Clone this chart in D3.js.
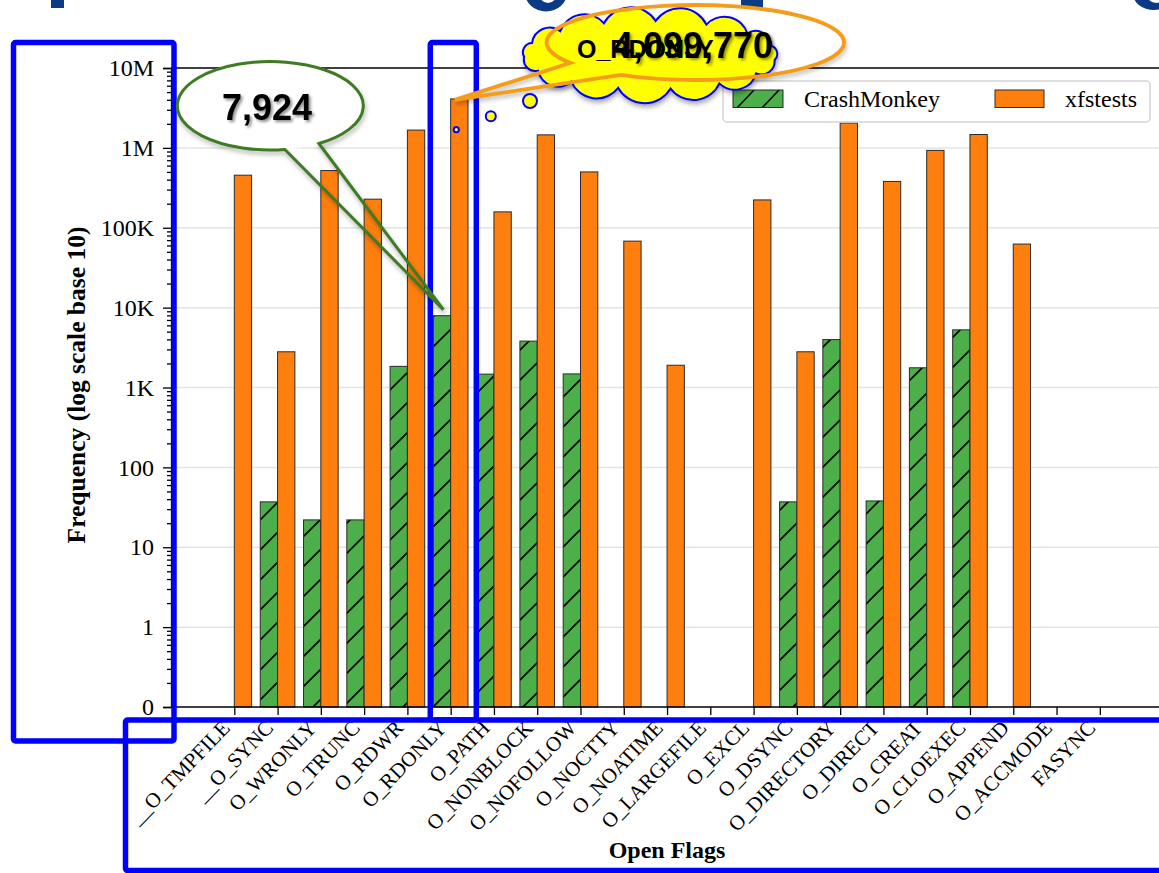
<!DOCTYPE html>
<html>
<head>
<meta charset="utf-8">
<script src="https://cdn.jsdelivr.net/npm/d3@7"></script>
<style>
  html, body { margin: 0; padding: 0; background: #fff; overflow: hidden; }
  svg { display: block; }
</style>
</head>
<body>
<svg id="chart" width="1159" height="873"></svg>
<script>
// ---- data ----
const categories = ["__O_TMPFILE", "__O_SYNC", "O_WRONLY", "O_TRUNC", "O_RDWR", "O_RDONLY",
  "O_PATH", "O_NONBLOCK", "O_NOFOLLOW", "O_NOCTTY", "O_NOATIME", "O_LARGEFILE", "O_EXCL",
  "O_DSYNC", "O_DIRECTORY", "O_DIRECT", "O_CREAT", "O_CLOEXEC", "O_APPEND", "O_ACCMODE", "FASYNC"];
const crashMonkey = [0, 37, 22, 22, 1840, 7924, 1470, 3810, 1480, 0, 0, 0, 0,
  37, 3980, 38, 1765, 5270, 0, 0, 0];
const xfstests = [455000, 2800, 520000, 228000, 1670000, 4099770, 158000, 1455000, 500000,
  68000, 1900, 0, 223000, 2800, 2050000, 380000, 930000, 1470000, 62500, 0, 0];
const seriesNames = ["CrashMonkey", "xfstests"];
const yTickValues = [0.1, 1, 10, 100, 1e3, 1e4, 1e5, 1e6, 1e7];
const yTickLabels = ["0", "1", "10", "100", "1K", "10K", "100K", "1M", "10M"];
const highlightFlag = "O_RDONLY";

const green = "#4caf4a", orange = "#ff7f0e", edge = "#2b2b2b";
const blue = "#0000ff", navy = "#0c3b86";

const svg = d3.select("#chart");
const defs = svg.append("defs");

// diagonal hatch for the CrashMonkey bars
const hatch = defs.append("pattern").attr("id", "hatch")
  .attr("patternUnits", "userSpaceOnUse").attr("width", 30).attr("height", 30);
hatch.append("rect").attr("width", 30).attr("height", 30).attr("fill", green);
hatch.append("path").attr("d", "M-3,3 L3,-3 M0,30 L30,0 M27,33 L33,27")
  .attr("stroke", "#000").attr("stroke-width", 1.6);

const legHatch = defs.append("pattern").attr("id", "legHatch")
  .attr("patternUnits", "userSpaceOnUse").attr("width", 25).attr("height", 25)
  .attr("x", 733).attr("y", 90);
legHatch.append("rect").attr("width", 25).attr("height", 25).attr("fill", green);
legHatch.append("path").attr("d", "M4,18 L21,0").attr("stroke", "#000").attr("stroke-width", 1.6);

const shadow = defs.append("filter").attr("id", "shadow")
  .attr("x", "-20%").attr("y", "-30%").attr("width", "140%").attr("height", "170%");
shadow.append("feDropShadow").attr("dx", 1).attr("dy", 3).attr("stdDeviation", 2.5)
  .attr("flood-color", "#000").attr("flood-opacity", 0.35);
const tshadow = defs.append("filter").attr("id", "tshadow")
  .attr("x", "-10%").attr("y", "-20%").attr("width", "130%").attr("height", "150%");
tshadow.append("feDropShadow").attr("dx", 2).attr("dy", 2).attr("stdDeviation", 1.4)
  .attr("flood-color", "#000").attr("flood-opacity", 0.45);

// ---- slide title fragments running off the top edge ----
const title = svg.append("g").attr("fill", navy);
title.append("rect").attr("x", 51).attr("y", -2).attr("width", 13).attr("height", 10);
title.append("rect").attr("x", 741).attr("y", -2).attr("width", 22).attr("height", 10);
const bowl = (cx, cy, rx, ry, ix, iy, irx, iry) =>
  `M${cx - rx},${cy} A${rx},${ry} 0 1 0 ${cx + rx},${cy} A${rx},${ry} 0 1 0 ${cx - rx},${cy} Z ` +
  `M${ix - irx},${iy} A${irx},${iry} 0 1 0 ${ix + irx},${iy} A${irx},${iry} 0 1 0 ${ix - irx},${iy} Z`;
title.append("path").attr("fill-rule", "evenodd").attr("d", bowl(546, -7, 21, 18.5, 548, -9, 10, 12));
title.append("path").attr("fill-rule", "evenodd").attr("d", bowl(1154, -6, 21, 16, 1156, -8, 10, 11));

// ---- scales ----
const x = d3.scaleLinear().domain([-1.4625, 21.4625]).range([171, 1163.1]);
const y = d3.scaleLog().domain([0.1, 1e7]).range([707, 68]);
const barW = x(0.4) - x(0);

const plot = svg.append("g");

// horizontal grid at each decade
plot.append("g").selectAll("line").data(yTickValues.slice(1, -1)).join("line")
  .attr("x1", 171).attr("x2", 1163).attr("y1", d => y(d)).attr("y2", d => y(d))
  .attr("stroke", "#e4e4e4").attr("stroke-width", 1.5);

// bars
const idx = d3.range(categories.length);
plot.append("g").selectAll("rect").data(idx.filter(i => crashMonkey[i] > 0)).join("rect")
  .attr("x", i => x(i - 0.4)).attr("width", barW)
  .attr("y", i => y(crashMonkey[i])).attr("height", i => y(0.1) - y(crashMonkey[i]))
  .attr("fill", "url(#hatch)").attr("stroke", edge).attr("stroke-width", 1);
plot.append("g").selectAll("rect").data(idx.filter(i => xfstests[i] > 0)).join("rect")
  .attr("x", i => x(i)).attr("width", barW)
  .attr("y", i => y(xfstests[i])).attr("height", i => y(0.1) - y(xfstests[i]))
  .attr("fill", orange).attr("stroke", edge).attr("stroke-width", 1);

// axes
const serif = "'Liberation Serif', 'Times New Roman', serif";
const yAxis = plot.append("g").attr("transform", "translate(171,0)")
  .call(d3.axisLeft(y).tickValues(yTickValues).tickSize(8).tickPadding(9)
    .tickFormat((d, i) => yTickLabels[i]));
const minor = [];
for (let e = -1; e < 7; e++) for (let m = 2; m < 10; m++) minor.push(m * Math.pow(10, e));
plot.append("g").attr("transform", "translate(171,0)")
  .call(d3.axisLeft(y).tickValues(minor).tickSize(4).tickFormat(""))
  .call(g => g.select(".domain").remove());
yAxis.selectAll("text").attr("font-family", serif).attr("font-size", 24).attr("fill", "#000");

const xAxis = plot.append("g").attr("transform", "translate(0,707)")
  .call(d3.axisBottom(x).tickValues(idx).tickSize(8).tickFormat(""));
xAxis.select(".domain").attr("d", "M171,0H1163");
plot.selectAll(".domain, .tick line").attr("stroke", "#000").attr("stroke-width", 1.3);

// top spine
plot.append("line").attr("x1", 171).attr("x2", 1163).attr("y1", 68).attr("y2", 68)
  .attr("stroke", "#000").attr("stroke-width", 1.3);

// rotated category labels
plot.append("g").selectAll("text").data(idx).join("text")
  .attr("transform", i => `translate(${x(i) - 3},729) rotate(-46)`)
  .attr("text-anchor", "end").attr("font-family", serif).attr("font-size", 21)
  .text(i => categories[i]);

// axis titles
svg.append("text").attr("x", 667).attr("y", 858).attr("text-anchor", "middle")
  .attr("font-family", serif).attr("font-weight", "bold").attr("font-size", 24)
  .text("Open Flags");
svg.append("text").attr("transform", "translate(85,385) rotate(-90)").attr("text-anchor", "middle")
  .attr("font-family", serif).attr("font-weight", "bold").attr("font-size", 25.5)
  .text("Frequency (log scale base 10)");

// legend
const legend = svg.append("g");
legend.append("rect").attr("x", 723).attr("y", 81).attr("width", 427).attr("height", 41)
  .attr("rx", 4).attr("fill", "#fff").attr("fill-opacity", 0.85)
  .attr("stroke", "#d3d3d3").attr("stroke-width", 1.5);
legend.append("rect").attr("x", 733).attr("y", 90).attr("width", 50).attr("height", 17.5)
  .attr("fill", "url(#legHatch)").attr("stroke", edge).attr("stroke-width", 1);
legend.append("text").attr("x", 804).attr("y", 107).attr("font-family", serif)
  .attr("font-size", 24).text(seriesNames[0]);
legend.append("rect").attr("x", 995).attr("y", 90).attr("width", 49).attr("height", 17.5)
  .attr("fill", orange).attr("stroke", edge).attr("stroke-width", 1);
legend.append("text").attr("x", 1065).attr("y", 107).attr("font-family", serif)
  .attr("font-size", 24).text(seriesNames[1]);

// ---- blue highlight frames ----
const frames = svg.append("g").attr("fill", "none").attr("stroke", blue).attr("stroke-width", 5.5)
  .attr("stroke-linejoin", "round");
frames.append("rect").attr("x", 13.5).attr("y", 42.5).attr("width", 160.5).attr("height", 698.5).attr("rx", 2);
frames.append("rect").attr("x", 430.3).attr("y", 42.5).attr("width", 46).attr("height", 677.5).attr("rx", 2);
frames.append("rect").attr("x", 125.5).attr("y", 720).attr("width", 1060).attr("height", 150.5).attr("rx", 2);

// ---- callouts ----
const hi = categories.indexOf(highlightFlag);
const fmt = d3.format(",");
function calloutPath(cx, cy, rx, ry, a1, a2, tip) {
  const p = a => [cx + rx * Math.cos(a * Math.PI / 180), cy + ry * Math.sin(a * Math.PI / 180)];
  return `M${p(a1)} A${rx},${ry} 0 1 1 ${p(a2)} L${tip} Z`;
}
const sans = "'Liberation Sans', Arial, sans-serif";

// CrashMonkey value callout: white oval body, outlined pointer
const gTip = [x(hi) - barW * 0.42, y(crashMonkey[hi]) - 6];
const gPath = calloutPath(270.3, 105.8, 93, 44.2, 81, 58.5, gTip);
svg.append("path").attr("d", gPath).attr("fill", "none").attr("stroke", "#000")
  .attr("stroke-opacity", 0.25).attr("stroke-width", 4).attr("transform", "translate(1,3)")
  .style("filter", "blur(2px)");
svg.append("ellipse").attr("cx", 270.3).attr("cy", 105.8).attr("rx", 93).attr("ry", 44.2)
  .attr("fill", "#fff");
svg.append("path").attr("d", gPath).attr("fill", "none").attr("stroke", "#3f7b22").attr("stroke-width", 3);
svg.append("text").attr("x", 267).attr("y", 120).attr("text-anchor", "middle")
  .attr("font-family", sans).attr("font-weight", "bold").attr("font-size", 36)
  .attr("filter", "url(#tshadow)").text(fmt(crashMonkey[hi]));

// xfstests value callout with the thought cloud behind its text
const oTip = [x(hi) + 4, y(xfstests[hi]) + 1];
const oPath = calloutPath(695.3, 42.5, 148.7, 37.5, 147, 120, oTip);
svg.append("path").attr("d", oPath).attr("fill", "none").attr("stroke", "#000")
  .attr("stroke-opacity", 0.25).attr("stroke-width", 4).attr("transform", "translate(1,3)")
  .style("filter", "blur(2px)");
svg.append("ellipse").attr("cx", 695.3).attr("cy", 42.5).attr("rx", 148.7).attr("ry", 37.5)
  .attr("fill", "#fff");

function cloudPath(cx, cy, rx, ry, n) {
  const pts = d3.range(n).map(k => {
    const a = Math.PI * 2 * k / n + 0.15;
    return [cx + rx * Math.cos(a), cy + ry * Math.sin(a)];
  });
  let d = `M${pts[0]}`;
  for (let k = 0; k < n; k++) {
    const a = pts[k], b = pts[(k + 1) % n];
    const c = Math.hypot(b[0] - a[0], b[1] - a[1]);
    d += ` A${c * 0.58},${c * 0.58} 0 0 1 ${b}`;
  }
  return d + " Z";
}
svg.append("path").attr("d", cloudPath(650, 55, 126, 34, 15))
  .attr("fill", "#ffff00").attr("stroke", blue).attr("stroke-width", 2).attr("filter", "url(#shadow)");
svg.append("path").attr("d", oPath).attr("fill", "none").attr("stroke", "#f59c18").attr("stroke-width", 3.8);

svg.append("text").attr("x", 577).attr("y", 58)
  .attr("font-family", sans).attr("font-weight", "bold").attr("font-size", 25)
  .text(highlightFlag);
svg.append("text").attr("x", 693).attr("y", 58).attr("text-anchor", "middle")
  .attr("font-family", sans).attr("font-weight", "bold").attr("font-size", 36)
  .attr("filter", "url(#tshadow)").text(fmt(xfstests[hi]));

// thought bubbles trailing to the bar
const bubbles = [[530, 101, 7], [490.8, 116.3, 5], [456.3, 129.7, 2.6]];
svg.append("g").selectAll("circle").data(bubbles).join("circle")
  .attr("cx", d => d[0]).attr("cy", d => d[1]).attr("r", d => d[2])
  .attr("fill", "#ffff00").attr("stroke", blue).attr("stroke-width", 2);
</script>
</body>
</html>
